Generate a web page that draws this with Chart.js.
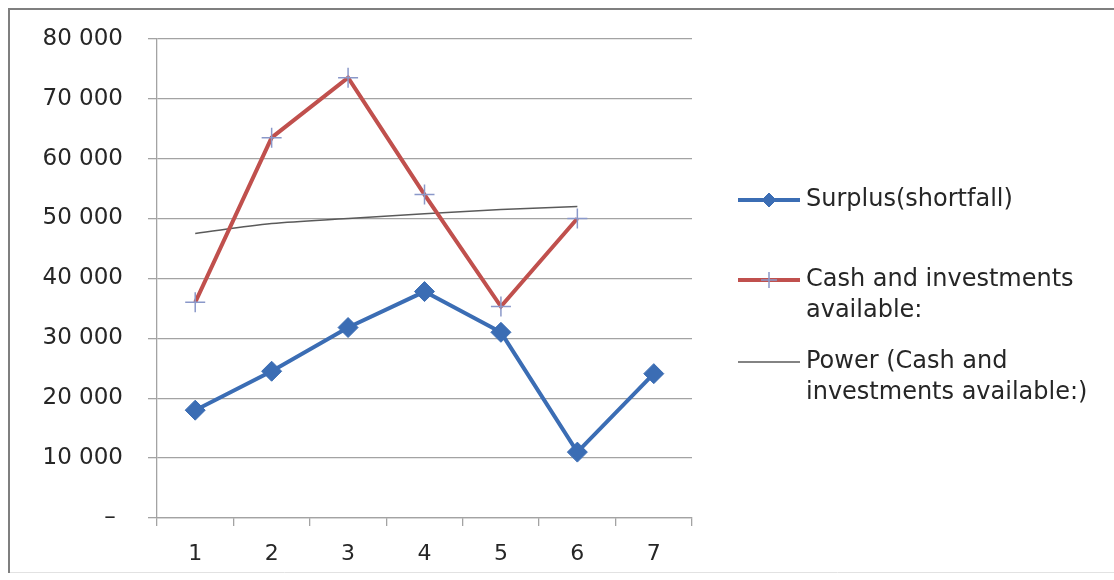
<!DOCTYPE html>
<html>
<head>
<meta charset="utf-8">
<script src="https://cdn.jsdelivr.net/npm/chart.js@4"></script>
<style>
  html, body { margin: 0; padding: 0; background: #ffffff; }
  #wrap { width: 1114px; height: 580px; }
</style>
</head>
<body>
<div id="wrap"><canvas id="c" width="1114" height="580"></canvas></div>
<script>
// Periods along the x axis
const periods = ['1', '2', '3', '4', '5', '6', '7'];

// Surplus / (shortfall) per period
const surplus = [18000, 24500, 31800, 37800, 31000, 11000, 24100];

// Cash and investments available per period
const cashAvailable = [36000, 63500, 73500, 54000, 35300, 50000, null];

// Power trendline fitted to the cash series
const powerTrend = [47500, 49150, 50000, 50800, 51500, 52000, null];

// Value axis labels, one per 10 000 step
const yTickLabels = ['– ', '10 000', '20 000', '30 000', '40 000', '50 000', '60 000', '70 000', '80 000'];

const FONT = 'DejaVu Sans';
const TEXT = '#262626';
const GRID = '#a3a3a3';

const BLUE = '#3b6db4';
const RED = '#c0504d';
const CROSS = '#8a98c9';
const TREND = '#5a5a5a';

// Outer frame of the chart object
const framePlugin = {
  id: 'frame',
  beforeDraw(chart) {
    const ctx = chart.ctx;
    ctx.save();
    ctx.fillStyle = '#ffffff';
    ctx.fillRect(0, 0, chart.width, chart.height);
    ctx.strokeStyle = '#e2e2e2';
    ctx.lineWidth = 1;
    ctx.beginPath();
    ctx.moveTo(8, 572.5);
    ctx.lineTo(chart.width, 572.5);
    ctx.stroke();
    ctx.strokeStyle = '#7f7f7f';
    ctx.lineWidth = 2;
    ctx.beginPath();
    ctx.moveTo(9, 573);
    ctx.lineTo(9, 9);
    ctx.lineTo(chart.width, 9);
    ctx.stroke();
    ctx.restore();
  }
};

// Legend at the right, with wrapped entries
const sideLegend = {
  id: 'sideLegend',
  afterDraw(chart) {
    const ctx = chart.ctx;
    const x0 = 738, x1 = 800, tx = 806;
    const items = [
      { ds: 0, y: 200, lines: ['Surplus(shortfall)'] },
      { ds: 1, y: 280, lines: ['Cash and investments', 'available:'] },
      { ds: 2, y: 362, lines: ['Power (Cash and', 'investments available:)'] }
    ];
    ctx.save();
    ctx.font = '24px "' + FONT + '"';
    ctx.textBaseline = 'middle';
    ctx.textAlign = 'left';
    items.forEach(it => {
      const ds = chart.data.datasets[it.ds];
      ctx.strokeStyle = ds.borderColor;
      ctx.lineWidth = ds.borderWidth;
      ctx.beginPath();
      ctx.moveTo(x0, it.y);
      ctx.lineTo(x1, it.y);
      ctx.stroke();
      if (ds.pointRadius > 0) {
        ctx.strokeStyle = ds.pointBorderColor;
        ctx.fillStyle = ds.pointBackgroundColor;
        ctx.lineWidth = ds.pointBorderWidth;
        Chart.helpers.drawPoint(ctx, {
          pointStyle: ds.pointStyle,
          radius: it.ds === 0 ? 7 : 8,
          borderWidth: ds.pointBorderWidth
        }, (x0 + x1) / 2, it.y);
      }
      ctx.fillStyle = TEXT;
      it.lines.forEach((t, i) => ctx.fillText(t, tx, it.y + i * 31));
    });
    ctx.restore();
  }
};

new Chart(document.getElementById('c'), {
  type: 'line',
  data: {
    labels: periods,
    datasets: [
      {
        label: 'Surplus(shortfall)',
        data: surplus,
        borderColor: BLUE,
        backgroundColor: BLUE,
        borderWidth: 4,
        pointStyle: 'rectRot',
        pointRadius: 10,
        pointBorderWidth: 1,
        pointBackgroundColor: BLUE,
        pointBorderColor: BLUE,
        tension: 0
      },
      {
        label: 'Cash and investments available:',
        data: cashAvailable,
        borderColor: RED,
        backgroundColor: RED,
        borderWidth: 4,
        pointStyle: 'cross',
        pointRadius: 10,
        pointBorderWidth: 1.5,
        pointBorderColor: CROSS,
        pointBackgroundColor: CROSS,
        tension: 0
      },
      {
        label: 'Power (Cash and investments available:)',
        data: powerTrend,
        borderColor: TREND,
        backgroundColor: TREND,
        borderWidth: 1.5,
        pointRadius: 0,
        cubicInterpolationMode: 'monotone'
      }
    ]
  },
  options: {
    responsive: false,
    animation: false,
    devicePixelRatio: 1,
    layout: { padding: { left: 0, top: 38, right: 422, bottom: 0 } },
    plugins: {
      legend: { display: false },
      tooltip: { enabled: false }
    },
    scales: {
      x: {
        type: 'category',
        offset: true,
        grid: {
          offset: true,
          drawOnChartArea: false,
          drawTicks: true,
          tickLength: 8,
          color: GRID,
          lineWidth: 1.3
        },
        border: { display: true, color: GRID, width: 1.3 },
        ticks: {
          font: { family: FONT, size: 22 },
          color: TEXT,
          padding: 15,
          maxRotation: 0
        },
        afterFit(scale) { scale.height = 62; }
      },
      y: {
        min: 0,
        max: 80000,
        grid: {
          color: GRID,
          lineWidth: 1.3,
          drawTicks: true,
          tickLength: 9
        },
        border: { display: true, color: GRID, width: 1.3 },
        ticks: {
          stepSize: 10000,
          font: { family: FONT, size: 23 },
          color: TEXT,
          padding: 25,
          callback: (v) => yTickLabels[Math.round(v / 10000)]
        },
        afterFit(scale) { scale.width = 157; }
      }
    }
  },
  plugins: [framePlugin, sideLegend]
});
</script>
</body>
</html>
